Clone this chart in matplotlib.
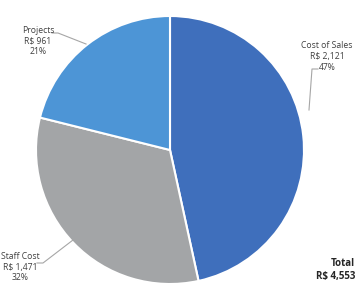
import matplotlib
matplotlib.use("Agg")
import matplotlib.pyplot as plt

categories = ["Cost of Sales", "Staff Cost", "Projects"]
values = [2121, 1471, 961]
colors = ["#3f6fbc", "#a3a5a7", "#4d95d6"]
total = sum(values)

W, H = 358, 291
fig = plt.figure(figsize=(W / 100, H / 100), dpi=100)
ax = fig.add_axes([0, 0, 1, 1])
ax.set_xlim(0, W)
ax.set_ylim(0, H)
ax.set_aspect("equal")
ax.axis("off")

cx, cy, r = 170, H - 150, 134
ax.pie(values, colors=colors, startangle=90, counterclock=False,
       center=(cx, cy), radius=r, frame=True,
       wedgeprops=dict(edgecolor="white", linewidth=1.5))
ax.set_xlim(0, W)
ax.set_ylim(0, H)
ax.axis("off")

font = "Open Sans"
tc = "#404040"
lc = "#a6a6a6"

def label(i, x, y):
    txt = f"{categories[i]}\nR$ {values[i]:,}\n{values[i] / total:.0%}"
    ax.text(x, H - y, txt, ha="center", va="top", fontsize=6.2,
            family=font, color=tc, linespacing=1.25)

label(0, 327, 41)
label(1, 20, 252)
label(2, 38, 26)

# leader lines (pixel coords, y from top)
ax.plot([318, 312, 309], [H - 69, H - 69, H - 110], color=lc, lw=0.8)
ax.plot([37, 43, 73], [H - 263, H - 263, H - 240], color=lc, lw=0.8)
ax.plot([52, 58, 86], [H - 33, H - 33, H - 44], color=lc, lw=0.8)

ax.text(355, H - 258, f"Total\nR$ {total:,}", ha="right", va="top",
        fontsize=7, family=font, weight="bold", color="#262626",
        multialignment="right", linespacing=1.3)

fig.savefig("out.png", dpi=100)
